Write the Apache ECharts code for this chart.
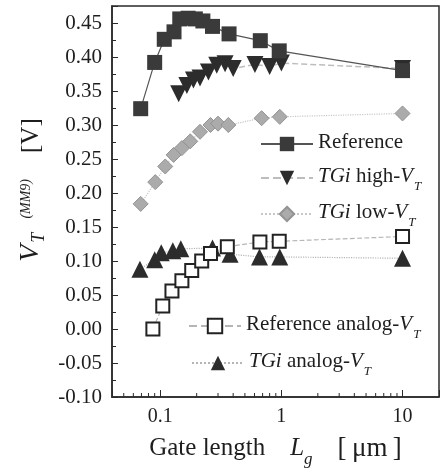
<!DOCTYPE html>
<html>
<head>
<meta charset="utf-8">
<script src="https://cdn.jsdelivr.net/npm/echarts@6/dist/echarts.min.js"></script>
<style>html,body{margin:0;padding:0;background:#fff}#c{width:443px;height:473px}</style>
</head>
<body>
<div id="c"></div>
<script>
// ---- data (x: gate length in µm, y: VT in V) ----
const seriesNames = ['Reference', 'TGi high-VT', 'TGi low-VT', 'Reference analog-VT', 'TGi analog-VT'];

const referenceX = [0.069, 0.090, 0.108, 0.130, 0.145, 0.170, 0.195, 0.225, 0.270, 0.370, 0.670, 0.960, 10];
const referenceY = [0.324, 0.392, 0.426, 0.437, 0.456, 0.457, 0.456, 0.453, 0.445, 0.434, 0.424, 0.409, 0.380];

const tgiHighX = [0.142, 0.166, 0.188, 0.213, 0.250, 0.293, 0.343, 0.400, 0.605, 0.800, 1.00, 10];
const tgiHighY = [0.346, 0.358, 0.366, 0.369, 0.378, 0.388, 0.390, 0.383, 0.389, 0.386, 0.391, 0.383];

const tgiLowX = [0.069, 0.091, 0.110, 0.129, 0.151, 0.177, 0.213, 0.260, 0.300, 0.365, 0.687, 0.970, 10];
const tgiLowY = [0.184, 0.216, 0.239, 0.256, 0.266, 0.276, 0.290, 0.300, 0.302, 0.300, 0.310, 0.312, 0.317];

const refAnalogX = [0.087, 0.105, 0.125, 0.151, 0.182, 0.220, 0.260, 0.358, 0.665, 0.960, 10];
const refAnalogY = [0.000, 0.034, 0.056, 0.071, 0.086, 0.100, 0.111, 0.121, 0.128, 0.129, 0.136];

const tgiAnalogX = [0.068, 0.090, 0.102, 0.127, 0.148, 0.270, 0.377, 0.660, 0.970, 10];
const tgiAnalogY = [0.088, 0.102, 0.112, 0.115, 0.118, 0.119, 0.110, 0.106, 0.106, 0.104];

const xMajorTicks = [0.1, 1, 10];
const xTickLabels = ['0.1', '1', '10'];
const xMinorTicks = [0.05, 0.06, 0.07, 0.08, 0.09, 0.2, 0.3, 0.4, 0.5, 0.6, 0.7, 0.8, 0.9, 2, 3, 4, 5, 6, 7, 8, 9];
const xMin = 0.04, xMax = 20;
const yMin = -0.10, yMax = 0.475, yStep = 0.05;

// ---- styling ----
const FONT = 'Liberation Serif';
const TXT = '#1e1e1e';
const richLegend = {
  n: {fontFamily: FONT, fontSize: 21, color: TXT, lineHeight: 24, verticalAlign: 'top'},
  i: {fontFamily: FONT, fontSize: 21, fontStyle: 'italic', color: TXT, lineHeight: 24, verticalAlign: 'top'},
  s: {fontFamily: FONT, fontSize: 13, fontStyle: 'italic', color: TXT, lineHeight: 13, padding: [14, 0, 0, 1], verticalAlign: 'top'}
};
const legendText = {
  'Reference': '{n|Reference}',
  'TGi high-VT': '{i|TGi}{n| high-}{i|V}{s|T}',
  'TGi low-VT': '{i|TGi}{n| low-}{i|V}{s|T}',
  'Reference analog-VT': '{n|Reference analog-}{i|V}{s|T}',
  'TGi analog-VT': '{i|TGi}{n| analog-}{i|V}{s|T}'
};
function zip(xs, ys) { return xs.map((x, k) => [x, ys[k]]); }

const legendPos = [
  {left: 260, top: 132},
  {left: 260, top: 166},
  {left: 260, top: 202},
  {left: 188, top: 314},
  {left: 191, top: 351}
];
const legends = seriesNames.map((nm, k) => ({
  data: [nm],
  left: legendPos[k].left, top: legendPos[k].top,
  orient: 'horizontal',
  padding: 0,
  itemWidth: 52, itemHeight: 18,
  selectedMode: false,
  symbolRotate: 'inherit',
  formatter: (name) => legendText[name],
  textStyle: {rich: richLegend, fontFamily: FONT, fontSize: 21, color: TXT}
}));

const chart = echarts.init(document.getElementById('c'), null, {renderer: 'canvas'});
chart.setOption({
  animation: false,
  backgroundColor: '#fff',
  legend: legends,
  grid: {left: 112, right: 4, top: 6, bottom: 73, show: true, borderColor: '#2a2a2a', borderWidth: 1.5, backgroundColor: 'transparent'},
  xAxis: {
    type: 'log', min: xMin, max: xMax, logBase: 10,
    axisLine: {show: true, onZero: false, lineStyle: {color: '#2a2a2a', width: 1.5}},
    axisTick: {show: true, inside: true, length: 7, lineStyle: {color: '#2a2a2a', width: 1}},
    splitLine: {show: false},
    axisLabel: {
      margin: 10, color: TXT, fontFamily: FONT, fontSize: 20,
      formatter: (v) => {
        for (let k = 0; k < xMajorTicks.length; k++) {
          if (Math.abs(Math.log10(v) - Math.log10(xMajorTicks[k])) < 1e-6) return xTickLabels[k];
        }
        return '';
      }
    },
    name: '{n|Gate length}{i|L}{s|g}{b|[\u2009μm\u2009]}',
    nameLocation: 'middle', nameGap: 39,
    nameTextStyle: {
      rich: {
        n: {fontFamily: FONT, fontSize: 25, color: TXT, lineHeight: 28, verticalAlign: 'top'},
        i: {fontFamily: FONT, fontSize: 25, fontStyle: 'italic', color: TXT, lineHeight: 28, verticalAlign: 'top', padding: [0, 0, 0, 25]},
        s: {fontFamily: FONT, fontSize: 17, fontStyle: 'italic', color: TXT, lineHeight: 17, padding: [15, 0, 0, 0], verticalAlign: 'top'},
        b: {fontFamily: FONT, fontSize: 27, color: TXT, lineHeight: 28, verticalAlign: 'top', padding: [-1, 0, 0, 25]}
      }
    }
  },
  yAxis: {
    type: 'value', min: yMin, max: yMax, interval: yStep,
    axisLine: {show: true, onZero: false, lineStyle: {color: '#2a2a2a', width: 1.5}},
    axisTick: {show: true, inside: true, length: 6, lineStyle: {color: '#2a2a2a', width: 1}},
    minorTick: {show: true, splitNumber: 2, length: 4, lineStyle: {color: '#2a2a2a', width: 1}},
    splitLine: {show: false},
    axisLabel: {
      margin: 10, color: TXT, fontFamily: FONT, fontSize: 21,
      formatter: (v) => Math.abs(v / yStep - Math.round(v / yStep)) < 1e-6 ? v.toFixed(2) : ''
    }
  },
  graphic: [{
    type: 'text',
    x: 31, y: 190,
    rotation: Math.PI / 2,
    style: {
      text: '{v|V}{t|T}{m|(MM9)}{b|[V]}',
      align: 'center', verticalAlign: 'middle',
      rich: {
        v: {fontFamily: FONT, fontSize: 28, fontStyle: 'italic', fill: TXT, lineHeight: 29, verticalAlign: 'top'},
        t: {fontFamily: FONT, fontSize: 18, fontStyle: 'italic', fill: TXT, lineHeight: 18, padding: [14, 0, 0, 2], verticalAlign: 'top'},
        m: {fontFamily: FONT, fontSize: 14, fontStyle: 'italic', fill: TXT, lineHeight: 14, padding: [3, 0, 0, 14], verticalAlign: 'top'},
        b: {fontFamily: FONT, fontSize: 25, fill: TXT, lineHeight: 29, padding: [2, 0, 0, 26], verticalAlign: 'top'}
      }
    }
  }],
  series: [
    {
      type: 'custom', silent: true, z: 1,
      data: xMinorTicks.map(v => [v, yMin]),
      renderItem: (params, api) => {
        const p = api.coord([api.value(0), api.value(1)]);
        return {type: 'line', shape: {x1: p[0], y1: p[1], x2: p[0], y2: p[1] - 4}, style: {stroke: '#2a2a2a', lineWidth: 1}};
      }
    },
    {
      name: seriesNames[4], type: 'line', data: zip(tgiAnalogX, tgiAnalogY),
      symbol: 'triangle', symbolSize: 17,
      itemStyle: {color: '#2c2c2c'},
      lineStyle: {color: '#b5b5b5', width: 1.2, type: 'dotted'}
    },
    {
      name: seriesNames[3], type: 'line', data: zip(refAnalogX, refAnalogY),
      symbol: 'rect', symbolSize: 13,
      itemStyle: {color: '#ffffff', borderColor: '#222', borderWidth: 2},
      lineStyle: {color: '#b5b5b5', width: 1.2, type: 'dashed'}
    },
    {
      name: seriesNames[2], type: 'line', data: zip(tgiLowX, tgiLowY),
      symbol: 'diamond', symbolSize: 15,
      itemStyle: {color: '#ababab', borderColor: '#939393', borderWidth: 1},
      lineStyle: {color: '#c8c8c8', width: 1.2, type: 'dotted'}
    },
    {
      name: seriesNames[1], type: 'line', data: zip(tgiHighX, tgiHighY),
      symbol: 'triangle', symbolRotate: 180, symbolSize: 17,
      itemStyle: {color: '#2c2c2c'},
      lineStyle: {color: '#bdbdbd', width: 1.5, type: 'dashed'}
    },
    {
      name: seriesNames[0], type: 'line', data: zip(referenceX, referenceY),
      symbol: 'rect', symbolSize: 15,
      itemStyle: {color: '#3a3a3a'},
      lineStyle: {color: '#555', width: 1.2, type: 'solid'}
    }
  ]
});
</script>
</body>
</html>
